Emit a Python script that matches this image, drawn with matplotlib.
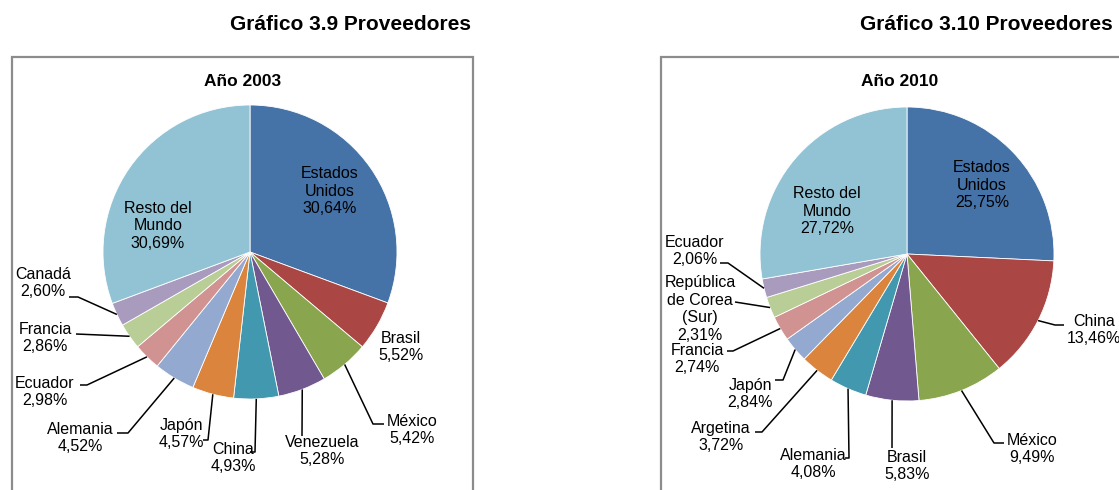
import numpy as np
import matplotlib.pyplot as plt
from matplotlib.patches import Rectangle

plt.rcParams['font.family'] = ['Liberation Sans', 'DejaVu Sans']

# data: 2003
labels_2003 = ["Estados\nUnidos", "Brasil", "México", "Venezuela", "China", "Japón",
               "Alemania", "Ecuador", "Francia", "Canadá", "Resto del\nMundo"]
values_2003 = [30.64, 5.52, 5.42, 5.28, 4.93, 4.57, 4.52, 2.98, 2.86, 2.60, 30.69]

# data: 2010
labels_2010 = ["Estados\nUnidos", "China", "México", "Brasil", "Alemania", "Argetina",
               "Japón", "Francia", "República\nde Corea\n(Sur)", "Ecuador", "Resto del\nMundo"]
values_2010 = [25.75, 13.46, 9.49, 5.83, 4.08, 3.72, 2.84, 2.74, 2.31, 2.06, 27.72]

colors = ['#4572A7', '#AA4643', '#89A54E', '#71588F', '#4198AF', '#DB843D',
          '#93A9CF', '#D19392', '#B9CD96', '#A99BBD', '#92C3D5']

W, H = 1119, 490
fig = plt.figure(figsize=(W / 100, H / 100), dpi=100)
ax = fig.add_axes([0, 0, 1, 1])


def Y(y):
    # pixel row -> data y (y axis goes up)
    return H - y


def fmt(v):
    return f"{v:.2f}".replace(".", ",") + "%"


# label layout per slice: (text x, text y, elbow points...) in pixel coords
# None = label inside the slice, no leader
layout_2003 = [
    ((330, 191), None),
    ((401, 347), None),
    ((412, 430), [(373, 424), (384, 424)]),
    ((322, 451), [(302, 436)]),
    ((233, 458), [(255, 452), (250, 452)]),
    ((181, 434), [(208, 440), (203, 440)]),
    ((80, 438), [(128, 433), (117, 433)]),
    ((45, 392), [(87, 385), (80, 385)]),
    ((45, 338), [(76, 334)]),
    ((43, 283), [(78, 297), (69, 297)]),
    ((158, 226), None),
]
layout_2010 = [
    ((982, 185), None),
    ((1094, 330), [(1055, 325), (1064, 325)]),
    ((1032, 449), [(994, 443), (1004, 443)]),
    ((907, 466), [(892, 448)]),
    ((813, 464), [(849, 458), (845, 458)]),
    ((721, 437), [(762, 432), (755, 432)]),
    ((750, 394), [(783, 380), (775, 380)]),
    ((697, 359), [(733, 351), (727, 351)]),
    ((700, 309), [(735, 302)]),
    ((695, 251), [(728, 263), (720, 263)]),
    ((827, 211), None),
]


def draw_pie(values, labels, layout, cx, cy, r, year, title, title_xy, title_ha):
    wedges, _ = ax.pie(values, colors=colors, center=(cx, Y(cy)), radius=r,
                       startangle=90, counterclock=False,
                       wedgeprops=dict(edgecolor='white', linewidth=0.6))
    for w, lab, v, (txy, pts) in zip(wedges, labels, values, layout):
        ax.text(txy[0], Y(txy[1]), lab + "\n" + fmt(v), ha='center', va='center',
                fontsize=11.5, linespacing=1.2, color='black')
        if pts is None:
            continue
        ang = np.deg2rad((w.theta1 + w.theta2) / 2)
        xs = [cx + r * np.cos(ang)] + [p[0] for p in pts]
        ys = [Y(cy) + r * np.sin(ang)] + [Y(p[1]) for p in pts]
        ax.plot(xs, ys, color='black', lw=1.1, solid_capstyle='butt')
    ax.text(cx - 7, Y(82), year, ha='center', va='center', fontsize=12.5,
            fontweight='bold')
    ax.text(title_xy[0], Y(title_xy[1]), title, ha=title_ha, va='center',
            fontsize=15, fontweight='bold')


# chart frames
ax.add_patch(Rectangle((11.5, Y(495)), 461, 438, fill=False, edgecolor='#8c8c8c', lw=1.6))
ax.add_patch(Rectangle((661, Y(495)), 480, 438, fill=False, edgecolor='#8c8c8c', lw=1.6))

draw_pie(values_2003, labels_2003, layout_2003, 250, 252, 147, "Año 2003",
         "Gráfico 3.9 Proveedores", (350, 25), 'center')
draw_pie(values_2010, labels_2010, layout_2010, 907, 254, 147, "Año 2010",
         "Gráfico 3.10 Proveedores", (1113, 25), 'right')

ax.set_xlim(0, W)
ax.set_ylim(0, H)
ax.set_aspect('auto')
ax.axis('off')

fig.savefig("out.png", dpi=100)
